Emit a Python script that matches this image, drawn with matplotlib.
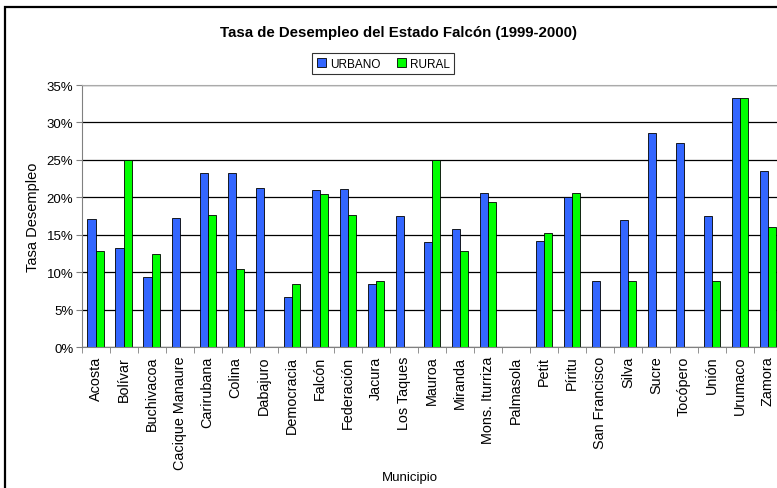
import matplotlib
matplotlib.use('Agg')
import numpy as np
import matplotlib.pyplot as plt
from matplotlib.patches import Rectangle
from matplotlib.ticker import FuncFormatter, FixedLocator

municipios = ['Acosta', 'Bolívar', 'Buchivacoa', 'Cacique Manaure', 'Carirubana',
              'Colina', 'Dabajuro', 'Democracia', 'Falcón', 'Federación', 'Jacura',
              'Los Taques', 'Mauroa', 'Miranda', 'Mons. Iturriza', 'Palmasola',
              'Petit', 'Píritu', 'San Francisco', 'Silva', 'Sucre', 'Tocópero',
              'Unión', 'Urumaco', 'Zamora']
urbano = [17.1, 13.3, 9.4, 17.3, 23.3, 23.3, 21.3, 6.7, 21.0, 21.1, 8.4,
          17.5, 14.0, 15.8, 20.6, 0, 14.2, 20.0, 8.9, 17.0, 28.6, 27.3,
          17.5, 33.3, 23.5]
rural = [12.8, 25.0, 12.4, 0, 17.7, 10.5, 0, 8.4, 20.4, 17.7, 8.8,
         0, 25.0, 12.8, 19.4, 0, 15.3, 20.6, 0, 8.8, 0, 0,
         8.8, 33.3, 16.0]

plt.rcParams['font.family'] = ['Liberation Sans', 'DejaVu Sans']

fig = plt.figure(figsize=(7.77, 4.89), dpi=100)
ax = fig.add_axes([0.105, 0.2877, 0.9014, 0.5364])

x = np.arange(len(municipios))
w = 0.29
ax.bar(x - w / 2, urbano, w, color='#3366FF', edgecolor='black', linewidth=0.6, label='URBANO')
ax.bar(x + w / 2, rural, w, color='#00FF00', edgecolor='black', linewidth=0.6, label='RURAL')

ax.set_xlim(-0.5, len(municipios) - 0.5)
ax.set_ylim(0, 35)
ax.set_yticks(np.arange(0, 36, 5))
ax.yaxis.set_major_formatter(FuncFormatter(lambda v, p: '%d%%' % v))
ax.grid(axis='y', color='black', linewidth=0.9)
ax.set_axisbelow(True)

# labels centred on categories, tick marks between them
ax.set_xticks(x)
ax.set_xticklabels(municipios, rotation=90, fontsize=10.4)
ax.xaxis.set_minor_locator(FixedLocator(np.arange(-0.5, len(municipios), 1)))
ax.tick_params(axis='x', which='major', length=0, pad=6)
ax.tick_params(axis='x', which='minor', length=4, color='gray', direction='out')
ax.tick_params(axis='y', length=4, color='gray', labelsize=9.5, pad=2)

for s in ['top', 'right']:
    ax.spines[s].set_color('#aaaaaa')
for s in ['left', 'bottom']:
    ax.spines[s].set_color('gray')

ax.set_ylabel('Tasa Desempleo', fontsize=10.5, labelpad=5)
fig.text(0.528, 0.022, 'Municipio', ha='center', va='center', fontsize=9.5)

fig.text(0.513, 0.933, 'Tasa de Desempleo del Estado Falcón (1999-2000)', ha='center',
         va='center', fontsize=10.8, fontweight='bold')

leg = fig.legend(loc='center', bbox_to_anchor=(0.493, 0.868), ncol=2, fontsize=8.5,
                 frameon=True, fancybox=False, edgecolor='black', handlelength=0.8,
                 handleheight=0.8, handletextpad=0.3, columnspacing=1.4,
                 borderpad=0.4)
leg.get_frame().set_linewidth(0.8)

fig.patches.append(Rectangle((0.007, -0.05), 1.05, 1.034, transform=fig.transFigure,
                             fill=False, edgecolor='black', linewidth=1.6))

fig.savefig('out.png', dpi=100)
